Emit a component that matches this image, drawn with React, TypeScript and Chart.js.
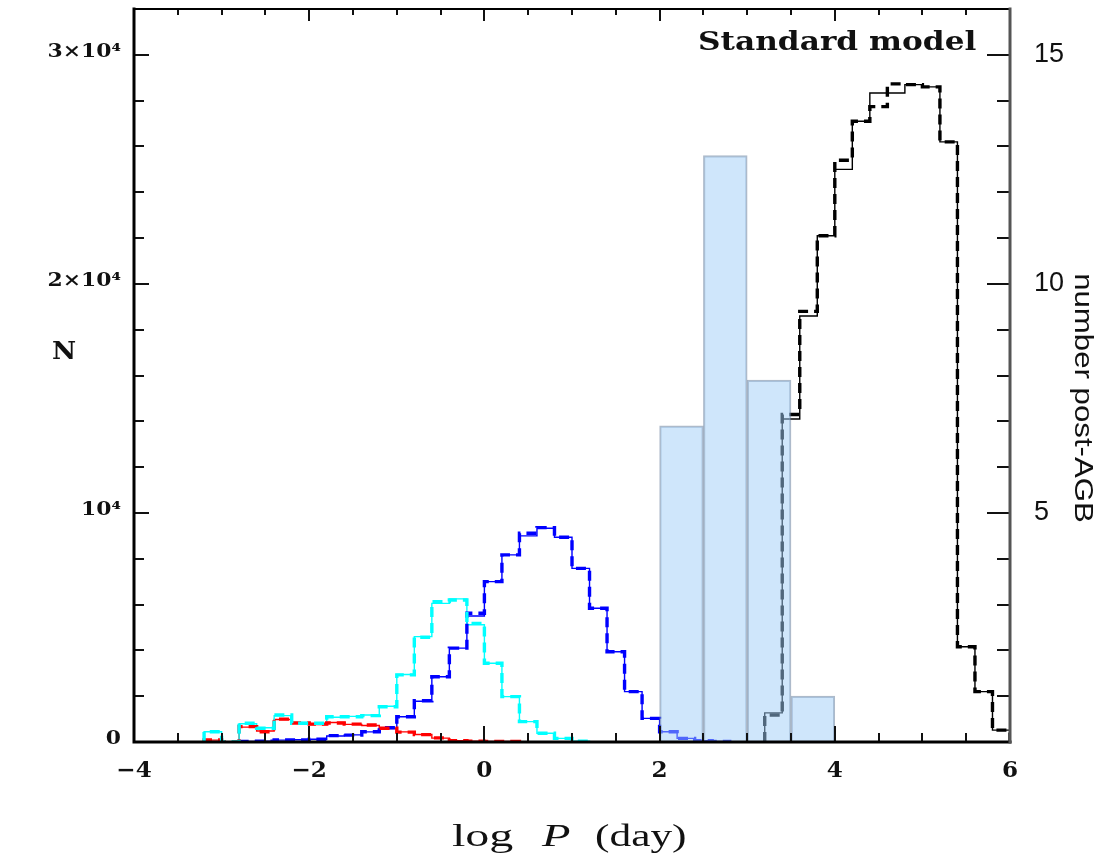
import { useEffect, useRef } from "react";
import { Chart, registerables } from "chart.js";

Chart.register(...registerables);

// ---------------- data ----------------
const BIN_WIDTH = 0.2;

const cyanStart = -3.2;
const cyanDashed = [450, 0, 820, 600, 1180, 820, 820, 1100, 1100, 1150, 1540, 2930, 4570, 6130, 6200, 5180, 3440, 1980, 890, 380, 160, 40];
const cyanThin = [450, 0, 800, 620, 1150, 850, 800, 1080, 1120, 1180, 1560, 2950, 4600, 6050, 6250, 5120, 3440, 1980, 890, 380, 160, 40];

const redStart = -3.2;
const redDashed = [90, 0, 670, 450, 1000, 830, 780, 830, 780, 740, 600, 430, 320, 180, 60, 30, 20, 20];
const redThin = [80, 0, 650, 480, 980, 840, 760, 850, 770, 720, 590, 440, 330, 170, 60, 30, 20, 20];

const blueStart = -2.8;
const blueDashed = [20, 30, 90, 90, 120, 280, 300, 450, 620, 1100, 1800, 2850, 4100, 5620, 7000, 8170, 9110, 9360, 8940, 7580, 5840, 3940, 2200, 1030, 450, 160, 60, 20];
const blueThin = [20, 30, 80, 100, 120, 260, 310, 440, 600, 1100, 1780, 2850, 4100, 5500, 7000, 8170, 9000, 9330, 8940, 7580, 5840, 3940, 2200, 1030, 450, 160, 60, 20];

const blackStart = 3.2;
const blackDashed = [1180, 14300, 18800, 22100, 25400, 27100, 27740, 28730, 28700, 28600, 26200, 4160, 2200, 520];
const blackThin = [1270, 14100, 18600, 22100, 25000, 27100, 28330, 28330, 28700, 28600, 26200, 4160, 2200, 520];

const postAgbEdges = [2.0, 2.5, 3.0, 3.5, 4.0];
const postAgbCounts = [6.9, 12.8, 7.9, 1.0];

const xTickValues = [-4, -2, 0, 2, 4, 6];
const xTickLabels = ["\u22124", "\u22122", "0", "2", "4", "6"];
const yTickValues = [0, 10000, 20000, 30000];
const yTickLabels = ["0", "10\u2074", "2\u00d710\u2074", "3\u00d710\u2074"];
const y2TickValues = [5, 10, 15];
const y2TickLabels = ["5", "10", "15"];

// ---------------- helpers ----------------
function stepPoints(start: number, values: number[]) {
  const pts: { x: number; y: number }[] = [{ x: start, y: 0 }];
  values.forEach((v, i) => pts.push({ x: +(start + i * BIN_WIDTH).toFixed(3), y: v }));
  pts.push({ x: +(start + values.length * BIN_WIDTH).toFixed(3), y: 0 });
  return pts;
}

function lineDs(label: string, start: number, values: number[], color: string, dashed: boolean) {
  return {
    type: "line" as const,
    label,
    data: stepPoints(start, values),
    borderColor: color,
    backgroundColor: color,
    borderWidth: dashed ? 3.4 : 1.4,
    borderDash: dashed ? [10, 6] : [],
    borderCapStyle: "butt",
    borderJoinStyle: "miter",
    stepped: true,
    pointRadius: 0,
    fill: false,
    tension: 0,
    yAxisID: "y",
    order: dashed ? 2 : 3,
  };
}

function stretchText(
  ctx: CanvasRenderingContext2D,
  text: string,
  x: number,
  y: number,
  font: string,
  sx: number,
  align: CanvasTextAlign,
  baseline: CanvasTextBaseline = "middle"
) {
  ctx.save();
  ctx.translate(x, y);
  ctx.scale(sx, 1);
  ctx.font = font;
  ctx.textAlign = align;
  ctx.textBaseline = baseline;
  ctx.fillText(text, 0, 0);
  ctx.restore();
}

const decorPlugin = {
  id: "decor",
  afterDraw(chart: any) {
    const { ctx, chartArea, scales } = chart;
    const { left, right, top, bottom } = chartArea;
    const xs = scales.x;
    const ys = scales.y;
    const y2 = scales.y2;
    ctx.save();
    ctx.fillStyle = "#000";

    // inward ticks
    ctx.strokeStyle = "#111";
    ctx.lineWidth = 2;
    ctx.beginPath();
    for (let v = -4; v <= 6.0001; v += 0.5) {
      const px = Math.round(xs.getPixelForValue(v));
      const major = Math.abs(v / 2 - Math.round(v / 2)) < 1e-6;
      ctx.moveTo(px, bottom);
      ctx.lineTo(px, bottom - (major ? 16 : 9));
      ctx.moveTo(px, top);
      ctx.lineTo(px, top + (major ? 12 : 6));
    }
    for (let v = 0; v <= 32000; v += 2000) {
      const py = Math.round(ys.getPixelForValue(v));
      const major = v % 10000 === 0;
      ctx.moveTo(left, py);
      ctx.lineTo(left + (major ? 15 : 10), py);
    }
    for (let v = 0; v <= 16; v += 1) {
      const py = Math.round(y2.getPixelForValue(v));
      const major = v % 5 === 0;
      ctx.moveTo(right, py);
      ctx.lineTo(right - (major ? 23 : 13), py);
    }
    ctx.stroke();

    // frame
    ctx.lineCap = "square";
    ctx.strokeStyle = "#000";
    ctx.lineWidth = 3;
    ctx.beginPath();
    ctx.moveTo(left, top);
    ctx.lineTo(left, bottom);
    ctx.lineTo(right, bottom);
    ctx.stroke();
    ctx.lineWidth = 2;
    ctx.beginPath();
    ctx.moveTo(left, top);
    ctx.lineTo(right, top);
    ctx.stroke();
    ctx.strokeStyle = "#555";
    ctx.lineWidth = 3;
    ctx.beginPath();
    ctx.moveTo(right, top);
    ctx.lineTo(right, bottom);
    ctx.stroke();

    // tick labels
    ctx.fillStyle = "#111";
    xTickValues.forEach((v, i) => {
      stretchText(ctx, xTickLabels[i], xs.getPixelForValue(v), 771, "bold 22px 'DejaVu Serif'", 1.05, "center");
    });
    yTickValues.forEach((v, i) => {
      stretchText(ctx, yTickLabels[i], 121, ys.getPixelForValue(v) - 3, "bold 19px 'DejaVu Serif'", 1.15, "right");
    });
    y2TickValues.forEach((v, i) => {
      stretchText(ctx, y2TickLabels[i], 1034, y2.getPixelForValue(v), "27px 'Liberation Sans'", 1.0, "left");
    });

    // axis titles
    stretchText(ctx, "N", 64, 353, "bold 24px 'DejaVu Serif'", 1.1, "center");
    stretchText(ctx, "log", 452, 846, "31px 'Liberation Serif'", 1.55, "left", "alphabetic");
    stretchText(ctx, "P", 542, 846, "italic 31px 'Liberation Serif'", 1.5, "left", "alphabetic");
    stretchText(ctx, "(day)", 595, 846, "31px 'Liberation Serif'", 1.4, "left", "alphabetic");

    ctx.save();
    ctx.translate(1082, 398);
    ctx.rotate(Math.PI / 2);
    ctx.scale(1.2, 1);
    ctx.font = "26px 'Liberation Sans'";
    ctx.textAlign = "center";
    ctx.textBaseline = "middle";
    ctx.fillText("number post-AGB", 0, 0);
    ctx.restore();

    // annotation
    stretchText(ctx, "Standard model", 698, 50, "bold 26px 'DejaVu Serif'", 1.2, "left", "alphabetic");

    ctx.restore();
  },
};

export default function App() {
  const ref = useRef<HTMLCanvasElement | null>(null);

  useEffect(() => {
    document.body.style.margin = "0";
    const canvas = ref.current;
    if (!canvas) return;

    const barData = postAgbCounts.map((c, i) => ({
      x: (postAgbEdges[i] + postAgbEdges[i + 1]) / 2,
      y: c,
    }));

    const chart = new Chart(canvas, {
      type: "line",
      data: {
        datasets: [
          {
            type: "bar",
            label: "post-AGB",
            data: barData,
            backgroundColor: "rgba(160,205,247,0.5)",
            borderColor: "rgba(105,130,158,0.55)",
            borderWidth: 1.5,
            barPercentage: 1,
            categoryPercentage: 1,
            yAxisID: "y2",
            order: 0,
          } as any,
          lineDs("cyan thin", cyanStart, cyanThin, "#00ffff", false),
          lineDs("cyan", cyanStart, cyanDashed, "#00ffff", true),
          lineDs("red thin", redStart, redThin, "#ff0000", false),
          lineDs("red", redStart, redDashed, "#ff0000", true),
          lineDs("blue thin", blueStart, blueThin, "#0000ff", false),
          lineDs("blue", blueStart, blueDashed, "#0000ff", true),
          lineDs("black thin", blackStart, blackThin, "#000000", false),
          lineDs("black", blackStart, blackDashed, "#000000", true),
        ] as any,
      },
      options: {
        responsive: false,
        animation: false,
        devicePixelRatio: 1,
        layout: { padding: { top: 9, left: 0, right: 0, bottom: 0 } },
        plugins: {
          legend: { display: false },
          tooltip: { enabled: false },
          title: { display: false },
        },
        scales: {
          x: {
            type: "linear",
            min: -4,
            max: 6,
            offset: false,
            grid: { display: false, offset: false },
            border: { display: false },
            ticks: { display: false },
            afterFit: (s: any) => {
              s.height = 114;
            },
          },
          y: {
            type: "linear",
            position: "left",
            min: 0,
            max: 32000,
            grid: { display: false },
            border: { display: false },
            ticks: { display: false },
            afterFit: (s: any) => {
              s.width = 134;
            },
          },
          y2: {
            type: "linear",
            position: "right",
            min: 0,
            max: 16,
            grid: { display: false },
            border: { display: false },
            ticks: { display: false },
            afterFit: (s: any) => {
              s.width = 98;
            },
          },
        },
      } as any,
      plugins: [decorPlugin],
    });

    return () => chart.destroy();
  }, []);

  return (
    <div style={{ width: 1108, height: 856, background: "#fff" }}>
      <canvas ref={ref} width={1108} height={856} style={{ display: "block" }} />
    </div>
  );
}
